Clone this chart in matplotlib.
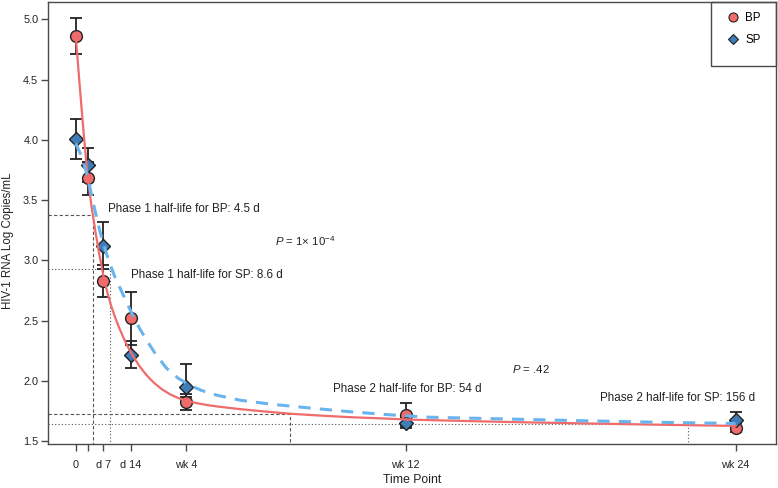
import numpy as np
import matplotlib.pyplot as plt
from matplotlib.lines import Line2D
from matplotlib.patches import Rectangle

plt.rcParams['font.family'] = ['Liberation Sans', 'DejaVu Sans']
plt.rcParams['mathtext.fontset'] = 'custom'
plt.rcParams['mathtext.rm'] = 'Liberation Sans'
plt.rcParams['mathtext.it'] = 'Liberation Sans:italic'

# observed time points (days) and tick labels
days = [0, 3, 7, 14, 28, 84, 168]
tick_days = [0, 3, 7, 14, 28, 84, 168]
tick_labels = ['0', '', 'd 7', 'd 14', 'wk 4', 'wk 12', 'wk 24']

# BP group: mean and error bar ends (log copies/mL)
bp_mean = [4.86, 3.68, 2.83, 2.52, 1.83, 1.72, 1.61]
bp_lo = [4.71, 3.54, 2.70, 2.30, 1.76, 1.63, 1.58]
bp_hi = [5.01, 3.82, 2.96, 2.74, 1.89, 1.82, 1.65]

# SP group
sp_mean = [4.01, 3.79, 3.12, 2.22, 1.95, 1.65, 1.68]
sp_lo = [3.84, 3.65, 2.93, 2.11, 1.87, 1.61, 1.63]
sp_hi = [4.17, 3.93, 3.32, 2.33, 2.14, 1.70, 1.74]

# fitted curves
bp_fit_t = [0, 1, 2, 3, 4, 5, 6, 7, 8, 9, 10, 11, 12, 13, 14, 15, 16, 17, 18, 19, 20,
            22, 24, 26, 28, 31, 34, 37, 41, 45, 50, 55, 62, 70, 78, 85, 100, 115, 134,
            150, 168]
bp_fit_v = [4.86, 4.45, 4.06, 3.70, 3.45, 3.24, 3.05, 2.88, 2.74, 2.625, 2.53, 2.445,
            2.37, 2.30, 2.24, 2.185, 2.135, 2.09, 2.05, 2.015, 1.983, 1.93, 1.89, 1.86,
            1.838, 1.815, 1.798, 1.785, 1.77, 1.757, 1.742, 1.728, 1.714, 1.70, 1.69,
            1.68, 1.668, 1.657, 1.646, 1.637, 1.628]
sp_fit_t = [0, 1.5, 3, 4.5, 6, 7, 8.6, 10, 12, 14, 16, 18, 20, 23, 26, 29, 32, 36, 42, 50,
            60, 70, 80, 90, 110, 130, 150, 168]
sp_fit_v = [3.97, 3.86, 3.70, 3.47, 3.26, 3.14, 2.98, 2.86, 2.72, 2.58, 2.45, 2.34, 2.24,
            2.11, 2.025, 1.965, 1.922, 1.882, 1.84, 1.807, 1.775, 1.745, 1.72, 1.70, 1.685,
            1.67, 1.657, 1.648]

# half-life reference lines: (day, level)
bp_ph1 = (4.5, 3.375)
sp_ph1 = (8.6, 2.926)
bp_ph2 = (54.5, 1.724)
sp_ph2 = (156, 1.647)

red = '#F06B6B'
blue_pt = '#3F7DB8'
blue_ln = '#6AB4EE'
frame = '#4a4a4a'
ink = '#222222'

fig = plt.figure(figsize=(7.78, 4.88), dpi=100)
ax = fig.add_axes([48 / 778, 1 - 443.5 / 488, 728 / 778, 441.5 / 488])
ax.set_xlim(-7.07, 178.3)
ax.set_ylim(1.482, 5.143)

x0 = -7.07
for (t, v), ls in [(bp_ph1, (0, (3, 2))), (sp_ph1, (0, (1, 2))),
                   (bp_ph2, (0, (3, 2))), (sp_ph2, (0, (1, 2)))]:
    ax.plot([x0, t, t], [v, v, 1.482], color='#555555', lw=0.8, ls=ls, zorder=1)

ax.errorbar(days, bp_mean, yerr=[np.subtract(bp_mean, bp_lo), np.subtract(bp_hi, bp_mean)],
            fmt='none', ecolor=ink, elinewidth=1.3, capsize=4, capthick=1.3, zorder=2)
ax.errorbar(days, sp_mean, yerr=[np.subtract(sp_mean, sp_lo), np.subtract(sp_hi, sp_mean)],
            fmt='none', ecolor=ink, elinewidth=1.3, capsize=4, capthick=1.3, zorder=2)
ax.plot(days, bp_mean, 'o', ms=8.5, mfc=red, mec=ink, mew=1, zorder=3)
ax.plot(days, sp_mean, 'D', ms=7.5, mfc=blue_pt, mec=ink, mew=1, zorder=3)

ax.plot(bp_fit_t, bp_fit_v, color=red, lw=1.6, zorder=4)
ax.plot(sp_fit_t, sp_fit_v, color=blue_ln, lw=2.2, ls=(0, (4, 3)), zorder=4)

fs = 8.4
ax.text(8.2, 3.427, 'Phase 1 half-life for BP: 4.5 d', fontsize=fs, va='center', color=ink)
ax.text(14.1, 2.88, 'Phase 1 half-life for SP: 8.6 d', fontsize=fs, va='center', color=ink)
ax.text(65.5, 1.934, 'Phase 2 half-life for BP: 54 d', fontsize=fs, va='center', color=ink)
ax.text(133.5, 1.86, 'Phase 2 half-life for SP: 156 d', fontsize=fs, va='center', color=ink)
ax.text(50.8, 3.16, '$P$ = 1\u00d7 10$^{-4}$', fontsize=8.2, va='center', color=ink)
ax.text(111, 2.10, '$P$ = .42', fontsize=8.2, va='center', color=ink)

ax.set_xticks(tick_days)
ax.set_xticklabels(tick_labels)
ax.set_yticks([1.5, 2.0, 2.5, 3.0, 3.5, 4.0, 4.5, 5.0])
ax.set_yticklabels(['1.5', '2.0', '2.5', '3.0', '3.5', '4.0', '4.5', '5.0'])
ax.tick_params(axis='both', labelsize=7.8, length=5, width=1, color=frame, labelcolor=ink)
ax.tick_params(axis='x', pad=7)
ax.tick_params(axis='y', pad=2)
for s in ax.spines.values():
    s.set_color(frame)
    s.set_linewidth(1)
ax.set_xlabel('Time Point', fontsize=8.8, color=ink, labelpad=3)
ax.set_ylabel('HIV-1 RNA Log Copies/mL', fontsize=8.3, color=ink)
ax.yaxis.set_label_coords(-0.047, 0.46)

# legend box in the top right corner
ax.add_patch(Rectangle((663 / 728, (443.5 - 66) / 441.5), 65 / 728, 64 / 441.5,
                       transform=ax.transAxes, fill=False, edgecolor=frame, lw=1,
                       clip_on=False, zorder=5))
handles = [Line2D([], [], ls='none', marker='o', ms=6.5, mfc=red, mec=ink, mew=0.8),
           Line2D([], [], ls='none', marker='D', ms=5.5, mfc=blue_pt, mec=ink, mew=0.8)]
ax.legend(handles, ['BP', 'SP'], loc='upper left',
          bbox_to_anchor=((728 - 48) / 728, (443.5 - 12) / 441.5),
          frameon=False, borderpad=0, borderaxespad=0, fontsize=8.3,
          handlelength=0.9, handletextpad=0.6, labelspacing=0.9)

fig.savefig('out.png', dpi=100)
